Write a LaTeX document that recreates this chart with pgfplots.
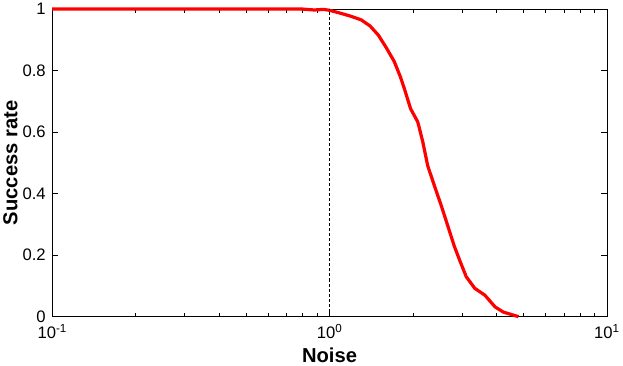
\documentclass[border=0pt]{standalone}
\usepackage{fontspec}
\setmainfont{Liberation Sans}
\usepackage{pgfplots}
\pgfplotsset{compat=1.18}

\begin{document}
\begin{tikzpicture}
\begin{axis}[
    xmode=log,
    scale only axis,
    width=550bp,
    height=305bp,
    xmin=0.1, xmax=10,
    ymin=0, ymax=1,
    xtick={0.1,1,10},
    xticklabels={10\textsuperscript{-1},10\textsuperscript{0},10\textsuperscript{1}},
    ytick={0,0.2,0.4,0.6,0.8,1},
    yticklabels={0,0.2,0.4,0.6,0.8,1},
    tick label style={font=\fontsize{16.5bp}{19bp}\selectfont, black},
    xticklabel style={yshift=-4bp},
    yticklabel style={xshift=-3bp},
    label style={font=\fontsize{20bp}{24bp}\selectfont\bfseries},
    xlabel={Noise},
    ylabel={Success rate},
    xlabel style={yshift=-2bp},
    ylabel style={yshift=-2bp},
    axis line style={line width=0.8pt},
    major tick length=6bp,
    minor tick length=3.5bp,
    tick style={black, line width=0.6pt},
    clip=false,
]
\addplot[red, line width=3.2pt, line join=round] coordinates {
    (0.1,1) (0.5,1) (0.8,1) (0.88,0.997) (0.95,0.999) (1.0,0.996)
    (1.1,0.986) (1.2,0.976) (1.3,0.965) (1.4,0.945) (1.5,0.915)
    (1.6,0.875) (1.71,0.83) (1.8,0.78) (1.86,0.742) (1.96,0.676)
    (2.08,0.633) (2.17,0.567) (2.26,0.49) (2.4,0.42) (2.53,0.36)
    (2.68,0.29) (2.82,0.228) (2.97,0.175) (3.11,0.13) (3.34,0.092)
    (3.63,0.070) (3.95,0.032) (4.23,0.015) (4.8,0)
};
\addplot[black, line width=1.5pt, dash pattern=on 3pt off 2pt] coordinates {
    (1,0) (1,1)
};
\end{axis}
\end{tikzpicture}
\end{document}
